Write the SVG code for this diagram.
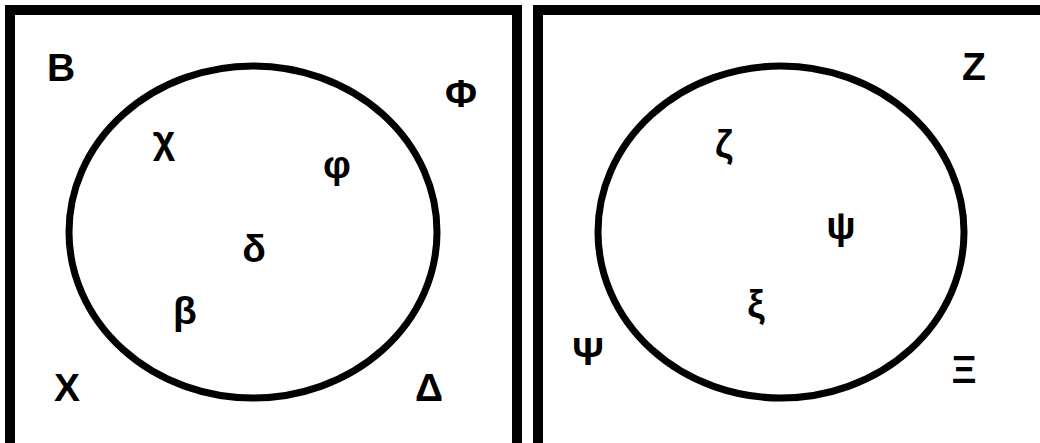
<svg xmlns="http://www.w3.org/2000/svg" width="1040" height="443" viewBox="0 0 1040 443">
<style>
.box{fill:none;stroke:#000;stroke-width:10}
.set{fill:none;stroke:#000;stroke-width:7}
.lbl{font-family:"Liberation Sans",Arial,sans-serif;font-weight:bold;font-size:39px;fill:#000;text-anchor:middle}
</style>
<rect width="1040" height="443" fill="#fff"/>
<g id="universe-left">
<rect class="box" x="10" y="10" width="507" height="450"/>
<ellipse class="set" cx="253" cy="232" rx="184" ry="166"/>
<text class="lbl" x="61" y="81">B</text>
<text class="lbl" x="461" y="107">Φ</text>
<text class="lbl" x="67" y="401">X</text>
<text class="lbl" x="429" y="401">Δ</text>
<text class="lbl" x="164" y="153">χ</text>
<text class="lbl" x="337" y="178">φ</text>
<text class="lbl" x="254" y="262">δ</text>
<text class="lbl" x="185" y="324">β</text>
</g>
<g id="universe-right">
<rect class="box" x="538" y="10" width="520" height="450"/>
<ellipse class="set" cx="781" cy="232" rx="183" ry="166"/>
<text class="lbl" x="974" y="80">Z</text>
<text class="lbl" x="964" y="383">Ξ</text>
<text class="lbl" x="588" y="365">Ψ</text>
<text class="lbl" x="724" y="157">ζ</text>
<text class="lbl" x="841" y="239">ψ</text>
<text class="lbl" x="756" y="317">ξ</text>
</g>
<g id="connectors"/>
</svg>
